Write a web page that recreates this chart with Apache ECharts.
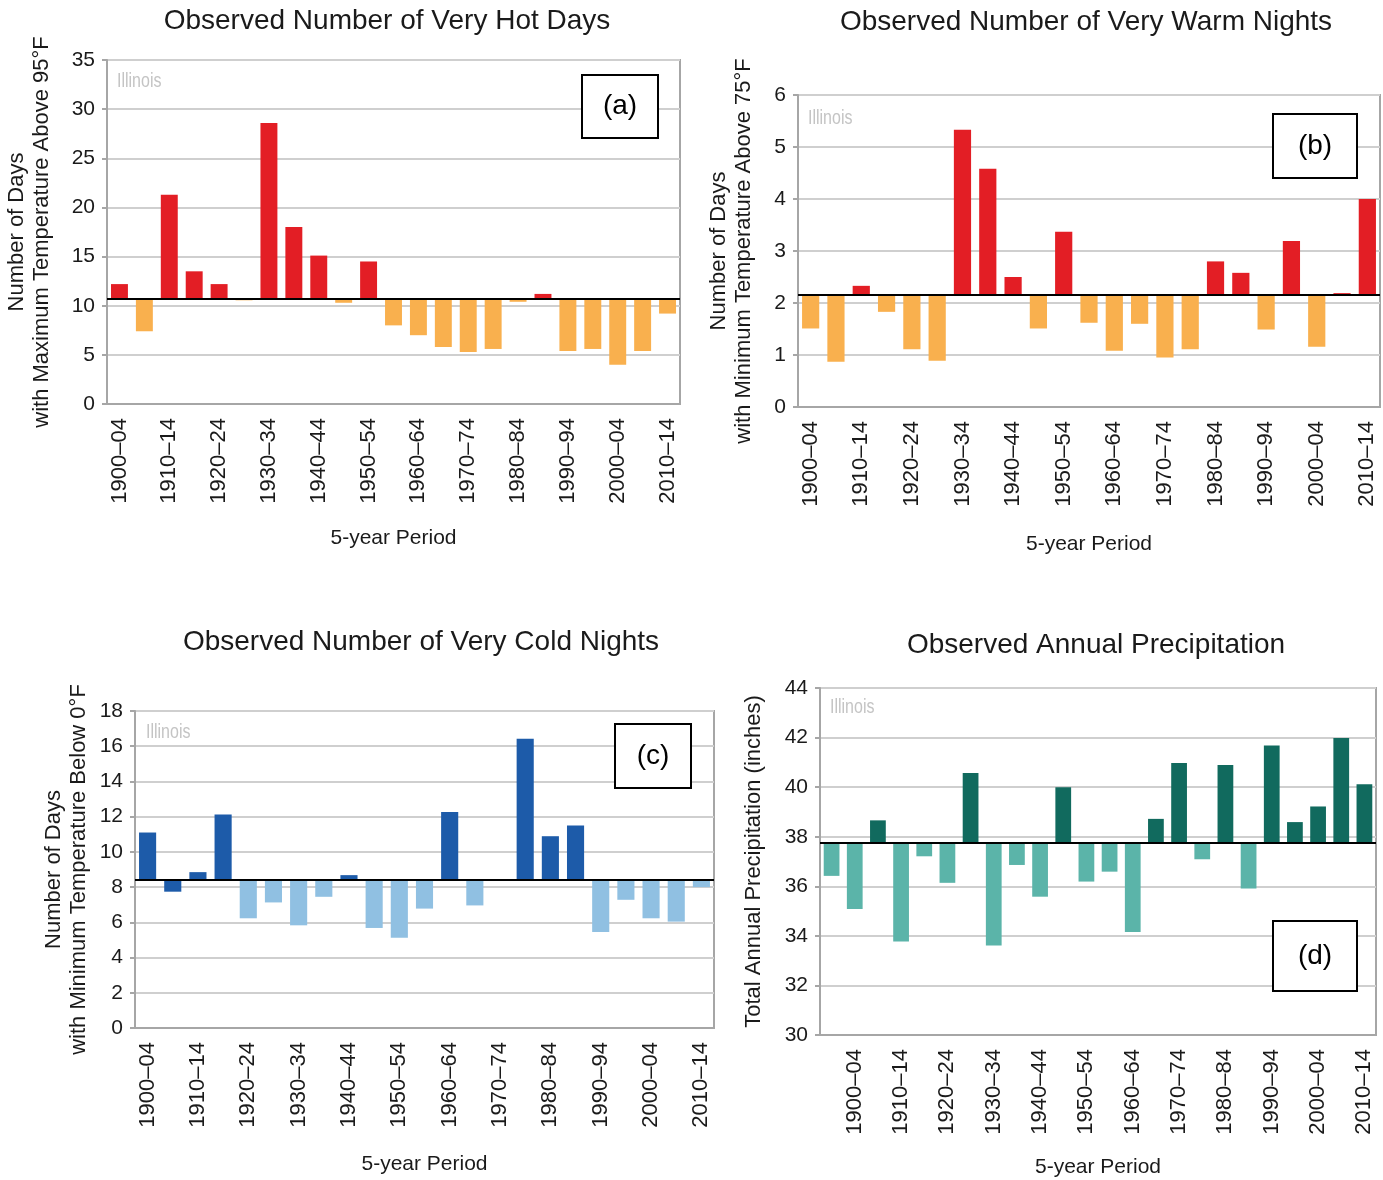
<!DOCTYPE html>
<html>
<head>
<meta charset="utf-8">
<title>Illinois Observed Climate Indicators</title>
<script src="https://cdn.jsdelivr.net/npm/echarts@6/dist/echarts.min.js"></script>
<style>
  html, body { margin: 0; padding: 0; background: #fff; }
  #chart { width: 1383px; height: 1180px; }
</style>
</head>
<body>
<div id="chart"></div>
<script>
// 5-year periods (category labels)
const periods = ['1900–04','1905–09','1910–14','1915–19','1920–24','1925–29','1930–34','1935–39',
  '1940–44','1945–49','1950–54','1955–59','1960–64','1965–69','1970–74','1975–79','1980–84',
  '1985–89','1990–94','1995–99','2000–04','2005–09','2010–14'];
const precipPeriods = ['1895–99'].concat(periods);

// (a) days with max temperature above 95°F, per 5-year period
const hotDays = [12.2, 7.4, 21.3, 13.5, 12.2, 10.55, 28.6, 18.0, 15.1, 10.3, 14.5, 8.0,
  7.0, 5.8, 5.3, 5.6, 10.4, 11.2, 5.4, 5.6, 4.0, 5.4, 9.2];
const hotDaysAvg = 10.7;

// (b) nights with min temperature above 75°F
const warmNights = [1.51, 0.87, 2.33, 1.83, 1.11, 0.89, 5.33, 4.58, 2.50, 1.51, 3.37, 1.62,
  1.08, 1.60, 0.95, 1.11, 2.80, 2.58, 1.49, 3.19, 1.16, 2.19, 4.00];
const warmNightsAvg = 2.15;

// (c) nights with min temperature below 0°F
const coldNights = [11.1, 7.74, 8.85, 12.13, 6.23, 7.13, 5.83, 7.45, 8.68, 5.68, 5.13, 6.78,
  12.26, 6.96, 8.42, 16.42, 10.89, 11.5, 5.45, 7.28, 6.23, 6.04, 8.0];
const coldNightsAvg = 8.42;
// periods shaded dark in (c) even though they fall under the line
const coldNightsDarkBelow = ['1905–09'];

// (d) total annual precipitation (inches)
const precip = [36.42, 35.08, 38.66, 33.77, 37.21, 36.14, 40.57, 33.61, 36.86, 35.58, 40.0,
  36.19, 36.59, 34.16, 38.72, 40.97, 37.09, 40.89, 35.91, 41.68, 38.59, 39.22, 41.98, 40.12];
const precipAvg = 37.75;

const FONT = '"Liberation Sans", Arial, Helvetica, sans-serif';
const AXIS_GRAY = '#a6a6a6';
const GRID_GRAY = '#cfcfcf';
const TEXT = '#1a1a1a';

const panels = [
  { title: 'Observed Number of Very Hot Days', tag: '(a)',
    cats: periods, values: hotDays, avg: hotDaysAvg, labelParity: 0, darkBelow: [],
    above: '#e31e25', below: '#f9b04e',
    yMin: 0, yMax: 35, yStep: 5,
    yName: 'Number of Days\nwith Maximum Temperature Above 95°F',
    grid: { left: 107, top: 60, width: 573, height: 344 },
    yNameGap: 53, xNameGap: 124,
    titlePos: [387, 21], box: [582, 75, 76, 63], statePos: [117, 81] },
  { title: 'Observed Number of Very Warm Nights', tag: '(b)',
    cats: periods, values: warmNights, avg: warmNightsAvg, labelParity: 0, darkBelow: [],
    above: '#e31e25', below: '#f9b04e',
    yMin: 0, yMax: 6, yStep: 1,
    yName: 'Number of Days\nwith Minimum Temperature Above 75°F',
    grid: { left: 798, top: 95, width: 582, height: 312 },
    yNameGap: 42, xNameGap: 127,
    titlePos: [1086, 22], box: [1273, 114, 84, 64], statePos: [808, 118] },
  { title: 'Observed Number of Very Cold Nights', tag: '(c)',
    cats: periods, values: coldNights, avg: coldNightsAvg, labelParity: 0,
    darkBelow: coldNightsDarkBelow,
    above: '#1d5ba9', below: '#90c0e2',
    yMin: 0, yMax: 18, yStep: 2,
    yName: 'Number of Days\nwith Minimum Temperature Below 0°F',
    grid: { left: 135, top: 711, width: 579, height: 317 },
    yNameGap: 44, xNameGap: 126,
    titlePos: [421, 642], box: [615, 724, 76, 64], statePos: [146, 732] },
  { title: 'Observed Annual Precipitation', tag: '(d)',
    cats: precipPeriods, values: precip, avg: precipAvg, labelParity: 1, darkBelow: [],
    above: '#116a5e', below: '#5bb4a9',
    yMin: 30, yMax: 44, yStep: 2,
    yName: 'Total Annual Precipitation (inches)',
    grid: { left: 820, top: 688, width: 556, height: 347 },
    yNameGap: 54, xNameGap: 122,
    titlePos: [1096, 645], box: [1273, 921, 84, 70], statePos: [830, 707] }
];

const grid = [], xAxis = [], yAxis = [], series = [], graphic = [];

panels.forEach((p, i) => {
  grid.push(Object.assign({ show: true, borderColor: AXIS_GRAY, borderWidth: 2,
    backgroundColor: '#fff' }, p.grid));

  const major = (idx) => idx % 2 === p.labelParity;

  // labelled axis with long ticks on every other period
  xAxis.push({
    type: 'category', gridIndex: i, data: p.cats, boundaryGap: true,
    axisLine: { lineStyle: { color: AXIS_GRAY, width: 2 } },
    axisTick: { alignWithLabel: true, interval: major, length: 9,
      lineStyle: { color: AXIS_GRAY, width: 2 } },
    axisLabel: { interval: major, rotate: 90, margin: 14, fontFamily: FONT,
      fontSize: 22, color: TEXT },
    splitLine: { show: false },
    name: '5-year Period', nameLocation: 'middle', nameGap: p.xNameGap,
    nameTextStyle: { fontFamily: FONT, fontSize: 21, color: TEXT }
  });
  // short ticks on every period
  xAxis.push({
    type: 'category', gridIndex: i, data: p.cats, boundaryGap: true,
    axisLine: { show: false },
    axisTick: { alignWithLabel: true, interval: 0, length: 5,
      lineStyle: { color: AXIS_GRAY, width: 2 } },
    axisLabel: { show: false }, splitLine: { show: false }
  });

  yAxis.push({
    type: 'value', gridIndex: i, min: p.yMin, max: p.yMax, interval: p.yStep,
    axisLine: { show: true, lineStyle: { color: AXIS_GRAY, width: 2 } },
    axisTick: { show: true, length: 5, lineStyle: { color: AXIS_GRAY, width: 2 } },
    axisLabel: { margin: 12, fontFamily: FONT, fontSize: 21, color: TEXT },
    splitLine: { lineStyle: { color: GRID_GRAY, width: 2 } },
    name: p.yName, nameLocation: 'middle', nameRotate: 90, nameGap: p.yNameGap,
    nameTextStyle: { fontFamily: FONT, fontSize: 22, lineHeight: 25, color: TEXT }
  });

  // bars run from the period average to each value: an invisible floor plus a coloured span
  const floor = p.values.map(v => Math.min(v, p.avg));
  const span = p.values.map((v, k) => ({
    value: Math.abs(v - p.avg),
    itemStyle: { color: (v >= p.avg || p.darkBelow.includes(p.cats[k])) ? p.above : p.below }
  }));
  series.push({
    type: 'bar', xAxisIndex: 2 * i, yAxisIndex: i, stack: 'panel' + i,
    data: floor, barWidth: '68%', silent: true,
    itemStyle: { color: 'rgba(0,0,0,0)' }
  });
  series.push({
    type: 'bar', xAxisIndex: 2 * i, yAxisIndex: i, stack: 'panel' + i,
    data: span, barWidth: '68%',
    markLine: {
      silent: true, symbol: 'none', label: { show: false },
      lineStyle: { color: '#000', width: 2, type: 'solid' },
      data: [{ yAxis: p.avg }]
    }
  });

  graphic.push({
    type: 'text', x: p.titlePos[0], y: p.titlePos[1],
    style: { text: p.title, font: '28px ' + FONT, fill: TEXT,
      align: 'center', verticalAlign: 'middle', textAlign: 'center', textVerticalAlign: 'middle' }
  });
  // condensed state label in the plot corner
  graphic.push({
    type: 'text', x: p.statePos[0], y: p.statePos[1], z: 5, scaleX: 0.8,
    style: { text: 'Illinois', font: '20px ' + FONT, fill: '#c4c4c4',
      align: 'left', verticalAlign: 'middle', textAlign: 'left', textVerticalAlign: 'middle' }
  });
  graphic.push({
    type: 'rect', z: 10,
    shape: { x: p.box[0], y: p.box[1], width: p.box[2], height: p.box[3] },
    style: { fill: '#fff', stroke: '#000', lineWidth: 2 }
  });
  graphic.push({
    type: 'text', z: 11, x: p.box[0] + p.box[2] / 2, y: p.box[1] + p.box[3] / 2,
    style: { text: p.tag, font: '28px ' + FONT, fill: '#000',
      align: 'center', verticalAlign: 'middle', textAlign: 'center', textVerticalAlign: 'middle' }
  });
});

const chart = echarts.init(document.getElementById('chart'), null, { renderer: 'canvas' });
chart.setOption({
  animation: false,
  backgroundColor: '#fff',
  grid, xAxis, yAxis, series, graphic
});
</script>
</body>
</html>
